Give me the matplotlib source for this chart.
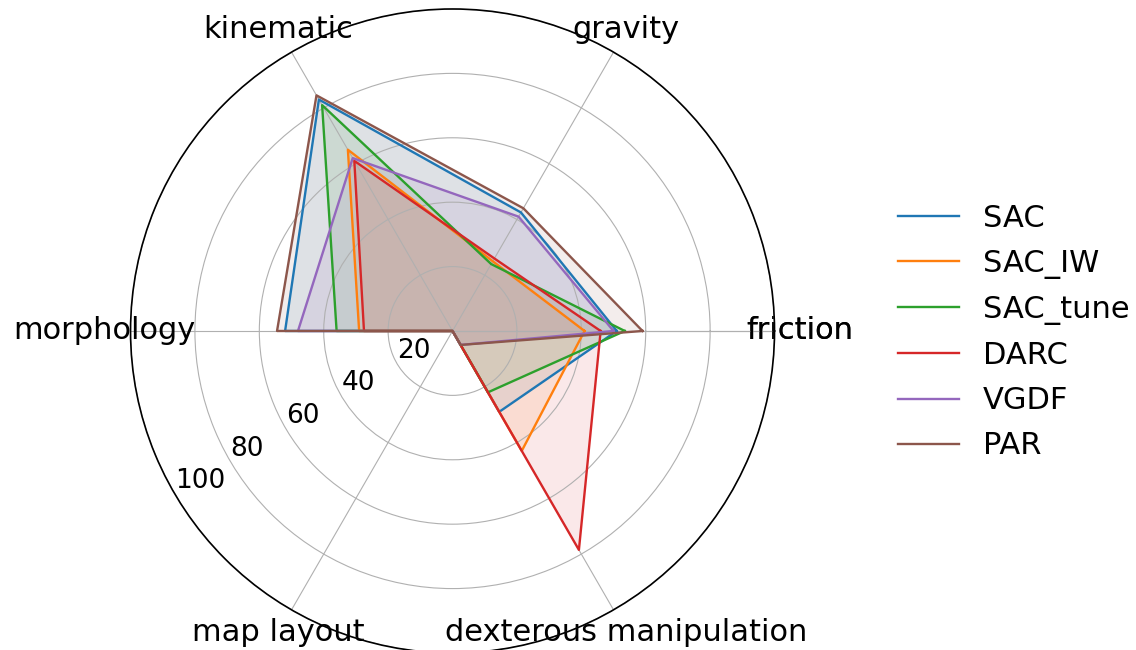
import numpy as np
import matplotlib.pyplot as plt

# kategori (sumbu radar)
kategori = ["friction", "gravity", "kinematic", "morphology",
            "map layout", "dexterous manipulation"]

# nilai per metode, urutan sama dengan kategori
sac      = [51.0, 42.5, 83.0, 52.0, 0.0, 29.0]
sac_iw   = [41.0, 25.0, 65.0, 29.0, 0.0, 43.0]
sac_tune = [53.5, 24.0, 81.0, 36.0, 0.0, 22.0]
darc     = [46.0, 26.0, 61.0, 27.5, 0.0, 78.5]
vgdf     = [50.0, 41.0, 62.0, 48.0, 0.0, 5.0]
par      = [59.0, 44.0, 84.5, 54.5, 0.0, 5.0]

metode = ["SAC", "SAC_IW", "SAC_tune", "DARC", "VGDF", "PAR"]
nilai = [sac, sac_iw, sac_tune, darc, vgdf, par]

r_ticks = [20, 40, 60, 80, 100]

n = len(kategori)
sudut = np.linspace(0, 2 * np.pi, n + 1)

fig = plt.figure(figsize=(11.36, 6.5), dpi=100)
ax = fig.add_axes([0.1149, -0.0046, 0.5669, 0.9908], polar=True)

for nama, v in zip(metode, nilai):
    data = v + v[:1]
    ax.plot(sudut, data, linewidth=1.7, label=nama)
    ax.fill(sudut, data, alpha=0.1)

# label sudut (friction muncul dua kali seperti aslinya)
ax.set_thetagrids(np.degrees(sudut), kategori + kategori[:1], fontsize=22)
ax.tick_params(axis="x", pad=8)
ax.set_ylim(0, 100)
ax.set_yticks(r_ticks)
ax.set_yticklabels([str(t) for t in r_ticks], fontsize=19)
ax.set_rlabel_position(210.5)
ax.spines["polar"].set_linewidth(1.2)

fig.legend(loc="center left", bbox_to_anchor=(870 / 1136, 1 - 332 / 650),
           frameon=False, fontsize=22, labelspacing=0.53)

plt.savefig("out.png", dpi=100)
